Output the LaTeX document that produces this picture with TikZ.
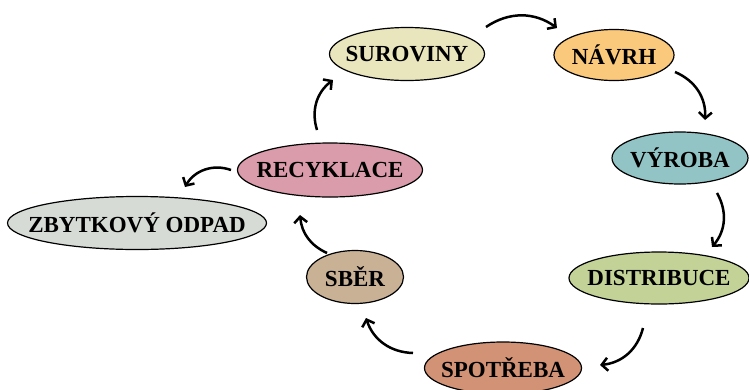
\documentclass[tikz,border=0pt]{standalone}
\usepackage{fontspec}
\setmainfont{Liberation Serif}
\usetikzlibrary{shapes.geometric,arrows.meta}
\definecolor{csur}{HTML}{E9E6BD}
\definecolor{cnav}{HTML}{FBC97B}
\definecolor{cvyr}{HTML}{93C4C5}
\definecolor{cdis}{HTML}{C3D398}
\definecolor{cspo}{HTML}{D29275}
\definecolor{csbe}{HTML}{C9B196}
\definecolor{crec}{HTML}{DA9BAB}
\definecolor{czby}{HTML}{D6DBD6}
\newcommand{\lbl}[1]{\makebox[0pt]{#1}}
\begin{document}
\begin{tikzpicture}[x=1pt,y=-1pt,>={Straight Barb[length=6pt,width=13pt]},
    cyc/.style={shape=ellipse,draw=black,line width=1.2pt,inner sep=0pt,font=\fontsize{23}{27}\selectfont\bfseries},
    arr/.style={->,line width=2.5pt}]
    \useasboundingbox (0,0) rectangle (749,389);
    \node[cyc,fill=csur,minimum width=155,minimum height=53] (suroviny) at (407,54) {\lbl{SUROVINY}};
    \node[cyc,fill=cnav,minimum width=120,minimum height=51] (navrh) at (614,55) {\lbl{NÁVRH}};
    \node[cyc,fill=cvyr,minimum width=136,minimum height=52] (vyroba) at (680,158) {\lbl{VÝROBA}};
    \node[cyc,fill=cdis,minimum width=180,minimum height=52] (distribuce) at (659,278) {\lbl{DISTRIBUCE}};
    \node[cyc,fill=cspo,minimum width=157,minimum height=52] (spotreba) at (503,368) {\lbl{SPOTŘEBA}};
    \node[cyc,fill=csbe,minimum width=97,minimum height=53] (sber) at (355,277) {\lbl{SBĚR}};
    \node[cyc,fill=crec,minimum width=185,minimum height=54] (recyklace) at (330,170) {\lbl{RECYKLACE}};
    \node[cyc,fill=czby,minimum width=259,minimum height=53] (zbytek) at (137,223) {\lbl{ZBYTKOVÝ ODPAD}};
    % cyklus
    \draw[arr] ([shift={(79,-27)}]suroviny.center) to[bend left=35] ([shift={(-57,-27)}]navrh.center);
    \draw[arr] ([shift={(61,17)}]navrh.center) to[bend left=35] ([shift={(25,-38)}]vyroba.center);
    \draw[arr] ([shift={(37,35)}]vyroba.center) to[bend left=35] ([shift={(53,-31)}]distribuce.center);
    \draw[arr] ([shift={(-16,50)}]distribuce.center) to[bend left=35] ([shift={(97,-3)}]spotreba.center);
    \draw[arr] ([shift={(-90,-15)}]spotreba.center) to[bend left=35] ([shift={(11,41)}]sber.center);
    \draw[arr] ([shift={(-28,-24)}]sber.center) to[bend left=30] ([shift={(-30,45)}]recyklace.center);
    \draw[arr] ([shift={(-13,-40)}]recyklace.center) to[bend left=35] ([shift={(-74,26)}]suroviny.center);
    \draw[arr] ([shift={(-99,0)}]recyklace.center) to[bend right=40] ([shift={(48,-36)}]zbytek.center);
\end{tikzpicture}
\end{document}
